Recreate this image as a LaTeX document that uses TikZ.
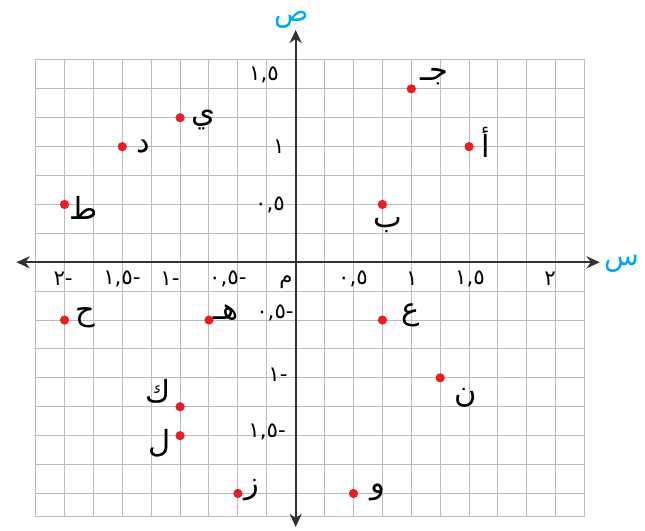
\documentclass[tikz,border=0pt]{standalone}
\usepackage{fontspec}
\newfontfamily\arabicfont[Script=Arabic]{DejaVu Sans}
\TeXXeTstate=1
\usetikzlibrary{arrows.meta}
\definecolor{pointred}{RGB}{232,30,36}
\definecolor{axisblue}{RGB}{0,168,236}
\definecolor{gridgray}{RGB}{188,188,188}
\definecolor{axisgray}{RGB}{50,50,50}
\newcommand{\negtick}[1]{\mbox{#1}\mbox{-}}

\begin{document}
\begin{tikzpicture}[x=2cm,y=2cm,
	grid line/.style={gridgray, line width=0.5pt},
	axis line/.style={axisgray, line width=0.9pt, {Stealth[length=6.5pt,width=6pt]}-{Stealth[length=6.5pt,width=6pt]}},
	point/.style={circle, fill=pointred, inner sep=0pt, minimum size=1.6mm},
	point label/.style={font=\arabicfont\fontsize{15}{18}\selectfont, inner sep=0pt},
	tick label/.style={font=\arabicfont\fontsize{10.5}{12}\selectfont, inner sep=0pt},
	axis label/.style={font=\arabicfont\fontsize{14}{16}\selectfont, text=axisblue, inner sep=0pt}]
	
	\useasboundingbox (-2.558,-2.324) rectangle (3.022,2.269);
	\draw[grid line] (-2.25,-2.2) grid[step=0.25] (2.5,1.75);
	\draw[grid line] (-2.25,-2.2) rectangle (2.5,1.75);
	
	\coordinate (xmin) at (-2.415,0);
	\coordinate (xmax) at (2.63,0);
	\coordinate (ymin) at (0,-2.29);
	\coordinate (ymax) at (0,2.01);
	\draw[axis line] (xmin) -- (xmax);
	\draw[axis line] (ymin) -- (ymax);
	\node[axis label] (xname) at (2.823,-0.01) {س};
	\node[axis label] (yname) at (-0.032,2.1) {ص};
	
	\node[tick label] (origin) at (-0.083,-0.17) {م};
	\node[tick label] (xm2) at (-2.012,-0.145) {\negtick{٢}};
	\node[tick label] (xm15) at (-1.503,-0.145) {\negtick{١,٥}};
	\node[tick label] (xm1) at (-1.087,-0.145) {\negtick{١}};
	\node[tick label] (xm05) at (-0.586,-0.145) {\negtick{٠,٥}};
	\node[tick label] (xp05) at (0.496,-0.145) {٠,٥};
	\node[tick label] (xp1) at (1.006,-0.145) {١};
	\node[tick label] (xp15) at (1.508,-0.145) {١,٥};
	\node[tick label] (xp2) at (2.2,-0.145) {٢};
	\node[tick label] (yp15) at (-0.274,1.62) {١,٥};
	\node[tick label] (yp1) at (-0.145,0.997) {١};
	\node[tick label] (yp05) at (-0.222,0.496) {٠,٥};
	\node[tick label] (ym05) at (-0.179,-0.439) {\negtick{٠,٥}};
	\node[tick label] (ym1) at (-0.153,-0.975) {\negtick{١}};
	\node[tick label] (ym15) at (-0.248,-1.468) {\negtick{١,٥}};
	
	\node[point] (alif) at (1.5,1) {};
	\node[point] (ba) at (0.75,0.5) {};
	\node[point] (jim) at (1,1.5) {};
	\node[point] (dal) at (-1.5,1) {};
	\node[point] (ha) at (-0.75,-0.5) {};
	\node[point] (waw) at (0.5,-2) {};
	\node[point] (zay) at (-0.5,-2) {};
	\node[point] (hha) at (-2,-0.5) {};
	\node[point] (tta) at (-2,0.5) {};
	\node[point] (ya) at (-1,1.25) {};
	\node[point] (kaf) at (-1,-1.25) {};
	\node[point] (lam) at (-1,-1.5) {};
	\node[point] (ayn) at (0.75,-0.5) {};
	\node[point] (nun) at (1.25,-1) {};
	
	\node[point label] (alif name) at (1.646,1.042) {أ};
	\node[point label] (ba name) at (0.798,0.323) {ب};
	\node[point label] (jim name) at (1.2,1.603) {\beginR جـ\endR};
	\node[point label] (dal name) at (-1.321,1.006) {د};
	\node[point label] (ha name) at (-0.6,-0.439) {\beginR هـ\endR};
	\node[point label] (waw name) at (0.712,-1.987) {و};
	\node[point label] (zay name) at (-0.378,-1.97) {ز};
	\node[point label] (hha name) at (-1.823,-0.482) {ح};
	\node[point label] (tta name) at (-1.832,0.47) {ط};
	\node[point label] (ya name) at (-0.802,1.231) {ي};
	\node[point label] (kaf name) at (-1.191,-1.113) {ك};
	\node[point label] (lam name) at (-1.174,-1.563) {ل};
	\node[point label] (ayn name) at (0.997,-0.456) {ع};
	\node[point label] (nun name) at (1.473,-1.174) {ن};
\end{tikzpicture}
\end{document}
